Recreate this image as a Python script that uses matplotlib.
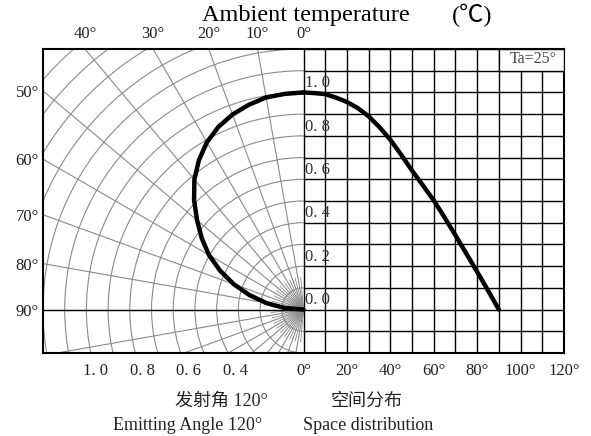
import numpy as np
import matplotlib
matplotlib.use("Agg")
import matplotlib.pyplot as plt
from matplotlib.patches import Arc, Rectangle

plt.rcParams['font.family'] = ['Liberation Serif', 'Noto Sans CJK SC', 'DejaVu Sans']

# relative intensity vs. angle
angles = [0, 5, 10, 15, 20, 25, 30, 35, 40, 45, 50, 55, 60, 65, 70, 75, 80, 85, 90]
intensity = [1.0, 0.997, 0.992, 0.976, 0.956, 0.928, 0.89, 0.84, 0.782, 0.713,
             0.64, 0.572, 0.503, 0.424, 0.342, 0.258, 0.174, 0.088, 0.0]

space_ticks = [0, 20, 40, 60, 80, 100, 120]
space_labels = ['0°', '20°', '40°', '60°', '80°', '100°', '120°']
radial_labels = ['1. 0', '0. 8', '0. 6', '0. 4']
radial_label_x = [-0.96, -0.743, -0.53, -0.313]
inner_labels = ['0. 0', '0. 2', '0. 4', '0. 6', '0. 8', '1. 0']
inner_values = [0.0, 0.2, 0.4, 0.6, 0.8, 1.0]
top_angles = [40, 30, 20, 10, 0]
side_angles = [50, 60, 70, 80, 90]

fig = plt.figure(figsize=(5.91, 4.36), dpi=100)
ax = fig.add_axes([43/591, 1-353/436, 521/591, 304/436])
ax.set_xlim(-1.2, 1.2)
ax.set_ylim(-0.2, 1.2)

grey = '#8a8a8a'
# polar grid, left half
for r in np.arange(0.1, 1.75, 0.1):
    ax.add_patch(Arc((0, 0), 2*r, 2*r, theta1=90, theta2=270, color=grey, lw=0.8, zorder=1))
for phi in range(10, 180, 10):
    t = np.radians(phi)
    ax.plot([0, -2*np.sin(t)], [0, 2*np.cos(t)], color=grey, lw=0.8, zorder=1)
for phi in range(5, 180, 10):
    t = np.radians(phi)
    ax.plot([0, -0.15*np.sin(t)], [0, 0.15*np.cos(t)], color=grey, lw=0.6, zorder=1)

# rectangular grid, right half
xs = np.arange(0.1, 1.25, 0.1)
for x in xs:
    top = 1.1 if x > 0.95 else 1.2
    ax.plot([x, x], [-0.2, top], color='black', lw=1.0, zorder=2)
for y in np.arange(-0.1, 1.25, 0.1):
    ax.plot([0, 1.2], [y, y], color='black', lw=1.0, zorder=2)
ax.plot([-1.2, 0], [0, 0], color='black', lw=1.0, zorder=2)
ax.plot([0, 0], [-0.2, 1.2], color='black', lw=1.0, zorder=2)

ax.add_patch(Rectangle((0.9, 1.1), 0.3, 0.1, fc='white', ec='black', lw=1.0, zorder=3))
ax.text(1.06, 1.155, 'Ta=25°', fontsize=11.5, color='#444', ha='center', va='center', zorder=4)

for lab, v in zip(inner_labels, inner_values):
    ax.text(0.006, v + 0.043, lab, fontsize=12, color='#333', ha='left', va='center', zorder=4)

# curves
a = np.radians(angles)
I = np.array(intensity)
ax.plot(np.array(angles)/100, I, color='black', lw=3.2, solid_capstyle='round',
        solid_joinstyle='round', zorder=5)
ax.plot(-I*np.sin(a), I*np.cos(a), color='black', lw=3.2, solid_capstyle='round',
        solid_joinstyle='round', zorder=5)

# ticks
ax.set_xticks(radial_label_x + [t/100 for t in space_ticks])
ax.set_xticklabels(radial_labels + space_labels, fontsize=12, color='#222')
ax.set_yticks([1.2/np.tan(np.radians(p)) for p in side_angles])
ax.set_yticklabels([f'{p}°' for p in side_angles], fontsize=12, color='#222')
ax.tick_params(length=0, pad=7, axis='x')
ax.tick_params(length=0, pad=3, axis='y')
for p in top_angles:
    ax.annotate(f'{p}°', xy=(-1.2*np.tan(np.radians(p)), 1.2), xytext=(0, 11),
                textcoords='offset points', ha='center', va='center',
                fontsize=12, color='#222', annotation_clip=False)

for s in ax.spines.values():
    s.set_linewidth(1.5)

fig.text(202/591, 1-15/436, 'Ambient temperature', fontsize=17.5, ha='left', va='center')
fig.text(492/591, 1-15/436, '(℃)', fontsize=17.5, ha='right', va='center')
fig.text(268/591, 1-401/436, '发射角 120°', fontsize=13, ha='right', va='center', color='#222')
fig.text(188/591, 1-425/436, 'Emitting Angle 120°', fontsize=13, ha='center', va='center', color='#222')
fig.text(367/591, 1-401/436, '空间分布', fontsize=13, ha='center', va='center', color='#222')
fig.text(368/591, 1-425/436, 'Space distribution', fontsize=13, ha='center', va='center', color='#222')

fig.savefig('out.png', dpi=100, facecolor='white')
